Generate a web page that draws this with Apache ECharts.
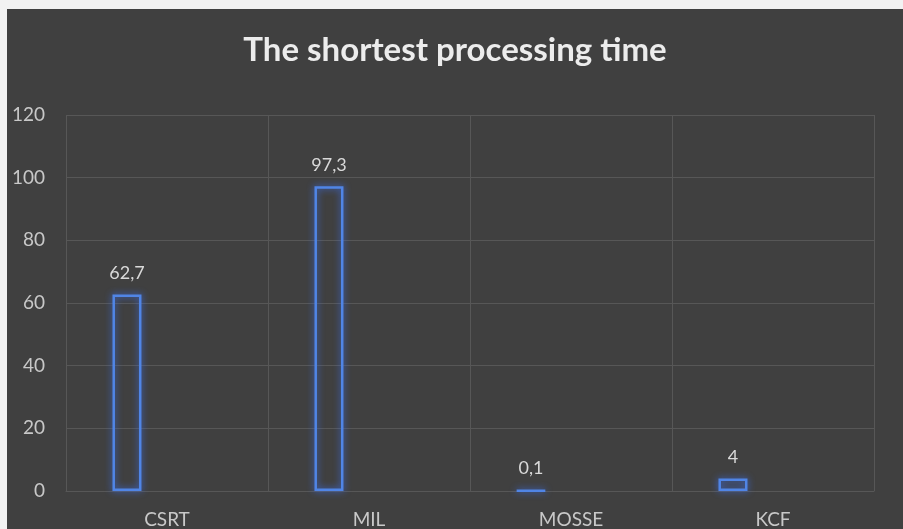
<!DOCTYPE html>
<html>
<head>
<meta charset="utf-8">
<script src="https://cdn.jsdelivr.net/npm/echarts@6/dist/echarts.min.js"></script>
<style>
  html, body { margin: 0; padding: 0; background: #f2f2f2; overflow: hidden; width: 903px; height: 529px; }
  #chart { position: absolute; left: 7px; top: 9px; width: 896px; height: 520px; background: #404040; }
</style>
</head>
<body>
<div id="chart"></div>
<script>
// Tracker names and their shortest processing time
const categories = ['CSRT', 'MIL', 'MOSSE', 'KCF'];
const processingTime = [62.7, 97.3, 0.1, 4];
// Empty companion series that keeps the cluster layout
const placeholder = [null, null, null, null];
const yTicks = [0, 20, 40, 60, 80, 100, 120];

const FONT = 'Lato, "Liberation Sans", sans-serif';
const gridColor = '#575757';

const chart = echarts.init(document.getElementById('chart'), null, { renderer: 'canvas' });
chart.setOption({
  backgroundColor: '#404040',
  animation: false,
  title: {
    text: 'The shortest processing time',
    left: 'center',
    top: 20,
    textStyle: { color: '#ececec', fontSize: 33, fontWeight: 'bold', fontFamily: FONT }
  },
  grid: { left: 59, right: 29, top: 106, bottom: 38, containLabel: false },
  xAxis: {
    type: 'category',
    data: categories,
    axisTick: { show: false },
    axisLine: { show: true, lineStyle: { color: gridColor, width: 1 } },
    splitLine: { show: true, lineStyle: { color: gridColor, width: 1 } },
    axisLabel: { color: '#c8c8c8', fontSize: 19, fontFamily: FONT, margin: 19 }
  },
  yAxis: {
    type: 'value',
    min: yTicks[0],
    max: yTicks[yTicks.length - 1],
    interval: yTicks[1] - yTicks[0],
    axisLine: { show: false },
    axisTick: { show: false },
    splitLine: { show: true, lineStyle: { color: gridColor, width: 1 } },
    axisLabel: { color: '#c8c8c8', fontSize: 19, fontFamily: FONT, margin: 21 }
  },
  series: [
    {
      name: 'Time',
      type: 'bar',
      data: processingTime,
      barWidth: 29,
      barGap: '176%',
      itemStyle: {
        color: 'rgba(0,0,0,0)',
        borderColor: '#5085e6',
        borderWidth: 2.5,
        shadowBlur: 7,
        shadowColor: 'rgba(60,110,235,1)'
      },
      label: {
        show: true,
        position: 'top',
        distance: 12,
        color: '#d9d9d9',
        fontSize: 18,
        fontFamily: FONT,
        formatter: p => String(p.value).replace('.', ',')
      }
    },
    {
      name: 'Spacer',
      type: 'bar',
      data: placeholder,
      barWidth: 29,
      itemStyle: { color: 'rgba(0,0,0,0)' }
    }
  ]
});
</script>
</body>
</html>
